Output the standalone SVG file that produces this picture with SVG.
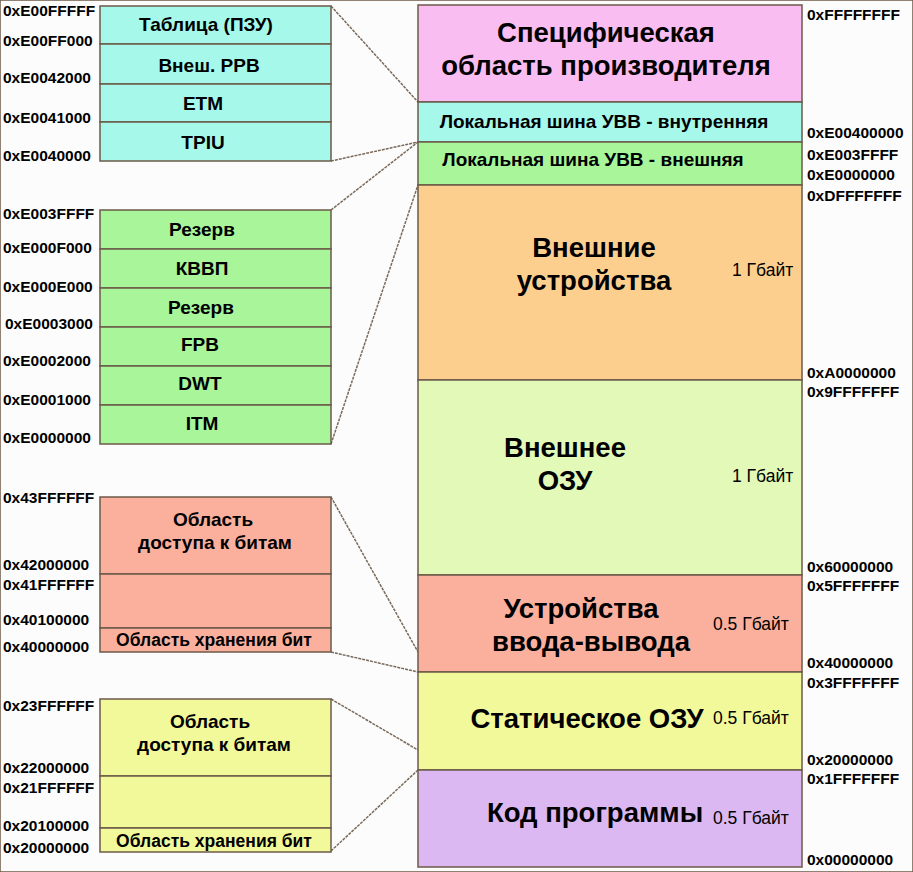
<svg xmlns="http://www.w3.org/2000/svg" width="913" height="872" viewBox="0 0 913 872">
<style>
rect{stroke:#6b5a48;stroke-width:1.5}
text{font-family:"Liberation Sans",Arial,sans-serif;font-weight:bold;fill:#000}
.a{font-size:15.5px}
.s{font-size:19px;text-anchor:middle}
.b{font-size:27.5px;text-anchor:middle}
.g{font-size:17.5px;font-weight:normal}
#c line{stroke:#7a6a5a;stroke-width:1.5;stroke-dasharray:3 1}
</style>
<rect x="0" y="0" width="913" height="872" fill="#fcfcfc" stroke="none"/>
<g id="c">
<line x1="331" y1="6" x2="418" y2="102"/>
<line x1="331" y1="161" x2="418" y2="142"/>
<line x1="331" y1="210" x2="418" y2="142"/>
<line x1="331" y1="444" x2="418" y2="185"/>
<line x1="331" y1="497" x2="418" y2="652"/>
<line x1="331" y1="652" x2="418" y2="672"/>
<line x1="331" y1="699" x2="418" y2="750"/>
<line x1="331" y1="851" x2="418" y2="770"/>
</g>
<g id="main">
<g id="m1"><rect x="418" y="5" width="384" height="97" fill="#f9bdf1"/><text class="b" x="606" y="42">Специфическая</text><text class="b" x="606" y="75">область производителя</text></g>
<g id="m2"><rect x="418" y="102" width="384" height="40" fill="#a6f8ea"/><text class="s" x="604" y="128">Локальная шина УВВ - внутренняя</text></g>
<g id="m3"><rect x="418" y="142" width="384" height="43" fill="#a8f59a"/><text class="s" x="593" y="166">Локальная шина УВВ - внешняя</text></g>
<g id="m4"><rect x="418" y="185" width="384" height="195" fill="#fdcf8e"/><text class="b" x="594" y="257">Внешние</text><text class="b" x="594" y="290">устройства</text><text class="g" x="732" y="276">1 Гбайт</text></g>
<g id="m5"><rect x="418" y="380" width="384" height="195" fill="#e2f9b8"/><text class="b" x="565" y="457">Внешнее</text><text class="b" x="565" y="490">ОЗУ</text><text class="g" x="732" y="482">1 Гбайт</text></g>
<g id="m6"><rect x="418" y="575" width="384" height="97" fill="#fbb09e"/><text class="b" x="581" y="618">Устройства</text><text class="b" x="591" y="651">ввода-вывода</text><text class="g" x="713" y="630">0.5 Гбайт</text></g>
<g id="m7"><rect x="418" y="672" width="384" height="98" fill="#f2f99b"/><text class="b" x="587" y="728">Статическое ОЗУ</text><text class="g" x="713" y="724">0.5 Гбайт</text></g>
<g id="m8"><rect x="418" y="770" width="384" height="97" fill="#dcb8f2"/><text class="b" x="595" y="822">Код программы</text><text class="g" x="713" y="824">0.5 Гбайт</text></g>
</g>
<g id="right-addr">
<text class="a" x="807" y="20">0xFFFFFFFF</text>
<text class="a" x="807" y="138">0xE00400000</text>
<text class="a" x="807" y="160">0xE003FFFF</text>
<text class="a" x="807" y="180">0xE0000000</text>
<text class="a" x="807" y="201">0xDFFFFFFF</text>
<text class="a" x="807" y="378">0xA0000000</text>
<text class="a" x="807" y="397">0x9FFFFFFF</text>
<text class="a" x="807" y="572">0x60000000</text>
<text class="a" x="807" y="591">0x5FFFFFFF</text>
<text class="a" x="807" y="668">0x40000000</text>
<text class="a" x="807" y="688">0x3FFFFFFF</text>
<text class="a" x="807" y="765">0x20000000</text>
<text class="a" x="807" y="784">0x1FFFFFFF</text>
<text class="a" x="807" y="865">0x00000000</text>
</g>
<g id="ppb-int">
<rect x="100" y="6" width="231" height="38" fill="#a6f8ea"/><text class="s" x="206" y="31">Таблица (ПЗУ)</text>
<rect x="100" y="44" width="231" height="40" fill="#a6f8ea"/><text class="s" x="209" y="72">Внеш. PPB</text>
<rect x="100" y="84" width="231" height="38" fill="#a6f8ea"/><text class="s" x="203" y="110">ETM</text>
<rect x="100" y="122" width="231" height="39" fill="#a6f8ea"/><text class="s" x="203" y="149">TPIU</text>
</g>
<g id="ppb-ext">
<rect x="100" y="210" width="231" height="39" fill="#a8f59a"/><text class="s" x="202" y="236">Резерв</text>
<rect x="100" y="249" width="231" height="39" fill="#a8f59a"/><text class="s" x="202" y="275">КВВП</text>
<rect x="100" y="288" width="231" height="39" fill="#a8f59a"/><text class="s" x="201" y="314">Резерв</text>
<rect x="100" y="327" width="231" height="39" fill="#a8f59a"/><text class="s" x="200" y="351">FPB</text>
<rect x="100" y="366" width="231" height="39" fill="#a8f59a"/><text class="s" x="200" y="390">DWT</text>
<rect x="100" y="405" width="231" height="39" fill="#a8f59a"/><text class="s" x="202" y="430">ITM</text>
</g>
<g id="bb-periph">
<rect x="100" y="497" width="231" height="77" fill="#fbb09e"/><text class="s" x="213" y="526">Область</text><text class="s" x="215" y="549">доступа к битам</text>
<rect x="100" y="574" width="231" height="54" fill="#fbb09e"/>
<rect x="100" y="628" width="231" height="24" fill="#fbb09e"/><text class="s" x="214" y="646" style="font-size:17.5px">Область хранения бит</text>
</g>
<g id="bb-sram">
<rect x="100" y="699" width="231" height="77" fill="#f2f99b"/><text class="s" x="210" y="728">Область</text><text class="s" x="214" y="751">доступа к битам</text>
<rect x="100" y="776" width="231" height="52" fill="#f2f99b"/>
<rect x="100" y="828" width="231" height="24" fill="#f2f99b"/><text class="s" x="214" y="847" style="font-size:17.5px">Область хранения бит</text>
</g>
<g id="left-addr">
<text class="a" x="3" y="16">0xE00FFFFF</text>
<text class="a" x="3" y="46">0xE00FF000</text>
<text class="a" x="3" y="83">0xE0042000</text>
<text class="a" x="3" y="123">0xE0041000</text>
<text class="a" x="3" y="161">0xE0040000</text>
<text class="a" x="3" y="219">0xE003FFFF</text>
<text class="a" x="3" y="253">0xE000F000</text>
<text class="a" x="3" y="292">0xE000E000</text>
<text class="a" x="5" y="329">0xE0003000</text>
<text class="a" x="3" y="366">0xE0002000</text>
<text class="a" x="3" y="405">0xE0001000</text>
<text class="a" x="3" y="443">0xE0000000</text>
<text class="a" x="3" y="503">0x43FFFFFF</text>
<text class="a" x="3" y="570">0x42000000</text>
<text class="a" x="3" y="590">0x41FFFFFF</text>
<text class="a" x="3" y="625">0x40100000</text>
<text class="a" x="3" y="652">0x40000000</text>
<text class="a" x="3" y="711">0x23FFFFFF</text>
<text class="a" x="3" y="773">0x22000000</text>
<text class="a" x="3" y="793">0x21FFFFFF</text>
<text class="a" x="3" y="831">0x20100000</text>
<text class="a" x="3" y="853">0x20000000</text>
</g>
</svg>
